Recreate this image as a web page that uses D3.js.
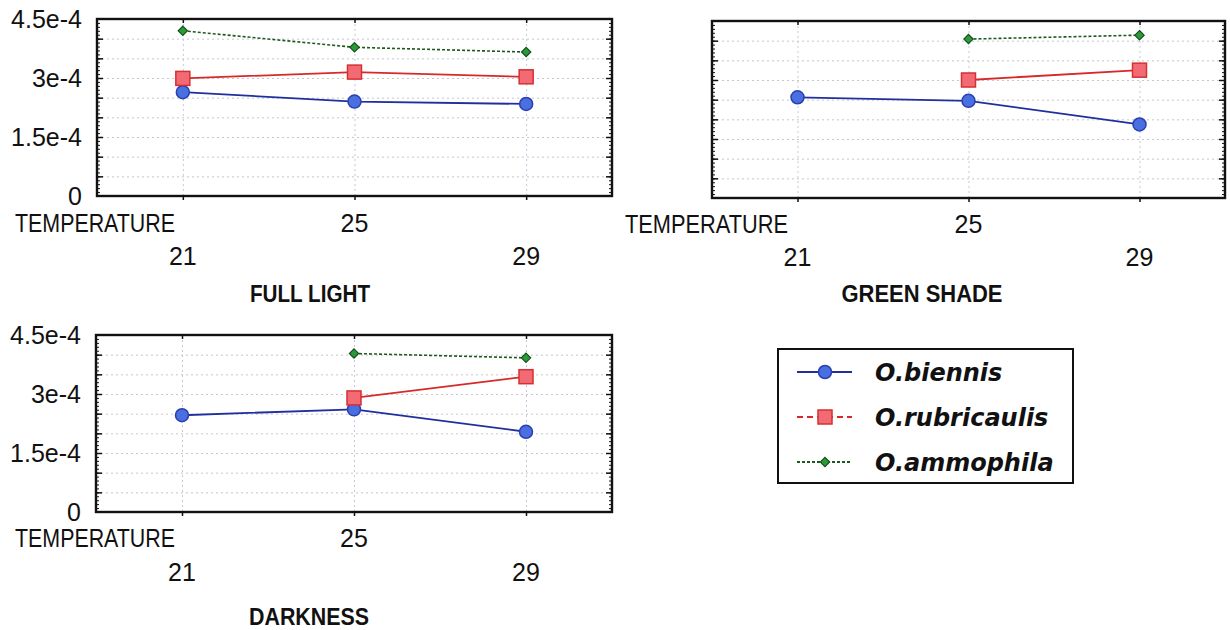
<!DOCTYPE html>
<html lang="en">
<head>
<meta charset="utf-8">
<title>Temperature panels</title>
<script src="https://cdn.jsdelivr.net/npm/d3@7"></script>
<style>
  body { margin: 0; background: #fff; }
  .lbl { font-family: "Liberation Sans", sans-serif; font-size: 25px; fill: #111; }
  .title { font-family: "Liberation Sans", sans-serif; font-weight: bold; font-size: 24px; fill: #111; }
  .leg { font-family: "DejaVu Sans", sans-serif; font-weight: bold; font-style: italic; font-size: 24px; fill: #111; }
</style>
</head>
<body>
<div id="chart"></div>
<script>
// data
var temps = [21, 25, 29];
var seriesNames = ["O.biennis", "O.rubricaulis", "O.ammophila"];
var yTicks = [0, 1.5e-4, 3e-4, 4.5e-4];

var fullBiennis = [2.64e-4, 2.40e-4, 2.34e-4];
var fullRubricaulis = [2.99e-4, 3.15e-4, 3.03e-4];
var fullAmmophila = [4.2e-4, 3.78e-4, 3.66e-4];

var shadeBiennis = [2.56e-4, 2.47e-4, 1.87e-4];
var shadeRubricaulis = [null, 3.0e-4, 3.25e-4];
var shadeAmmophila = [null, 4.04e-4, 4.14e-4];

var darkBiennis = [2.46e-4, 2.61e-4, 2.04e-4];
var darkRubricaulis = [null, 2.9e-4, 3.44e-4];
var darkAmmophila = [null, 4.03e-4, 3.92e-4];

var W = 1230, H = 630;
var svg = d3.select("#chart").append("svg")
    .attr("width", W).attr("height", H);

var styles = [
  {line: "#1f2f9e", fill: "#4a6fe0", stroke: "#2a3fb0", dash: null, shape: "circle"},
  {line: "#d62a2a", fill: "#f26b74", stroke: "#d63030", dash: null, legDash: "6,4", shape: "square"},
  {line: "#1c5a1c", fill: "#2c9a3a", stroke: "#14501a", dash: "3,2", shape: "diamond"}
];

var panels = [
  {title: "FULL LIGHT", titleW: 120, left: 97, right: 612, top: 19, bottom: 196, xDomain: [19, 31],
   showY: true, tempX: 15, tempW: 160, row1: 232, row2: 265, titleX: 310, titleY: 302,
   series: [fullBiennis, fullRubricaulis, fullAmmophila]},
  {title: "GREEN SHADE", titleW: 161, left: 712, right: 1225, top: 21, bottom: 198, xDomain: [19, 31],
   showY: false, tempX: 625, tempW: 163, row1: 233, row2: 266, titleX: 922, titleY: 302,
   series: [shadeBiennis, shadeRubricaulis, shadeAmmophila]},
  {title: "DARKNESS", titleW: 120, left: 96, right: 612, top: 335, bottom: 512, xDomain: [19, 31],
   showY: true, tempX: 15, tempW: 160, row1: 547, row2: 581, titleX: 309, titleY: 625,
   series: [darkBiennis, darkRubricaulis, darkAmmophila]}
];

panels.forEach(function(p) {
  var w = p.right - p.left, h = p.bottom - p.top;
  var x = d3.scaleLinear().domain(p.xDomain).range([0, w]);
  var y = d3.scaleLinear().domain([0, 4.5e-4]).range([h, 0]);
  var g = svg.append("g").attr("transform", "translate(" + p.left + "," + p.top + ")");

  // grid
  var hGrid = d3.range(1, 9).map(function(i) { return i * 0.5e-4; });
  g.append("g").call(d3.axisLeft(y).tickValues(hGrid).tickSize(-w).tickFormat(""))
    .call(function(s) {
      s.select(".domain").remove();
      s.selectAll("line").attr("stroke", "#c6c6cc").attr("stroke-dasharray", "2,3");
    });
  g.append("g").attr("transform", "translate(0," + h + ")")
    .call(d3.axisBottom(x).tickValues(temps).tickSize(-h).tickFormat(""))
    .call(function(s) {
      s.select(".domain").remove();
      s.selectAll("line").attr("stroke", "#c4c8dc").attr("stroke-dasharray", "2,3");
    });

  // minor + major inside ticks, left and right
  var minor = d3.range(0, 46).map(function(i) { return i * 0.1e-4; });
  [["L", 0], ["R", w]].forEach(function(side) {
    var ax = side[0] === "L" ? d3.axisRight : d3.axisLeft;
    g.append("g").attr("transform", "translate(" + side[1] + ",0)")
      .call(ax(y).tickValues(minor).tickSize(3).tickFormat(""))
      .call(function(s) { s.select(".domain").remove(); s.selectAll("line").attr("stroke", "#111"); });
    g.append("g").attr("transform", "translate(" + side[1] + ",0)")
      .call(ax(y).tickValues(hGrid).tickSize(6).tickFormat(""))
      .call(function(s) { s.select(".domain").remove(); s.selectAll("line").attr("stroke", "#111").attr("stroke-width", 1.5); });
  });

  // x ticks bottom (outside) and top (inside)
  g.append("g").attr("transform", "translate(0," + h + ")")
    .call(d3.axisBottom(x).tickValues(temps).tickSize(4).tickFormat(""))
    .call(function(s) { s.select(".domain").remove(); s.selectAll("line").attr("stroke", "#111").attr("stroke-width", 1.5); });
  g.append("g")
    .call(d3.axisBottom(x).tickValues(temps).tickSize(4).tickFormat(""))
    .call(function(s) { s.select(".domain").remove(); s.selectAll("line").attr("stroke", "#111").attr("stroke-width", 1.5); });

  // frame
  g.append("rect").attr("width", w).attr("height", h)
    .attr("fill", "none").attr("stroke", "#111").attr("stroke-width", 2.4);

  // y labels
  if (p.showY) {
    g.append("g")
      .call(d3.axisLeft(y).tickValues(yTicks).tickSize(0).tickPadding(15)
        .tickFormat(function(d) { return d === 0 ? "0" : (+(d * 1e4).toFixed(1)) + "e-4"; }))
      .call(function(s) {
        s.select(".domain").remove();
        s.selectAll("text").attr("class", "lbl").attr("font-size", null).attr("font-family", null).attr("fill", null);
      });
  }

  // series
  p.series.forEach(function(vals, si) {
    var st = styles[si];
    var pts = temps.map(function(t, i) { return {t: t, v: vals[i]}; })
      .filter(function(d) { return d.v != null; });
    var line = d3.line().x(function(d) { return x(d.t); }).y(function(d) { return y(d.v); });
    g.append("path").datum(pts).attr("d", line)
      .attr("fill", "none").attr("stroke", st.line).attr("stroke-width", si === 2 ? 1.6 : 1.8)
      .attr("stroke-dasharray", st.dash);
    drawMarkers(g, pts.map(function(d) { return [x(d.t), y(d.v)]; }), st);
  });

  // x labels
  var base = svg.append("g");
  base.append("text").attr("class", "lbl").attr("x", p.tempX).attr("y", p.row1)
    .attr("font-size", "24px")
    .attr("textLength", p.tempW).attr("lengthAdjust", "spacingAndGlyphs").text("TEMPERATURE");
  temps.forEach(function(t, i) {
    base.append("text").attr("class", "lbl")
      .attr("x", p.left + x(t)).attr("y", i === 1 ? p.row1 : p.row2)
      .attr("text-anchor", "middle").text(t);
  });
  base.append("text").attr("class", "title").attr("x", p.titleX).attr("y", p.titleY)
    .attr("text-anchor", "middle").attr("textLength", p.titleW).attr("lengthAdjust", "spacingAndGlyphs")
    .text(p.title);
});

function drawMarkers(g, pts, st) {
  var sel = g.selectAll(null).data(pts).enter();
  if (st.shape === "circle") {
    sel.append("circle").attr("cx", function(d) { return d[0]; }).attr("cy", function(d) { return d[1]; })
      .attr("r", 6.5).attr("fill", st.fill).attr("stroke", st.stroke).attr("stroke-width", 1.5);
  } else if (st.shape === "square") {
    sel.append("rect").attr("x", function(d) { return d[0] - 7; }).attr("y", function(d) { return d[1] - 7; })
      .attr("width", 14).attr("height", 14).attr("fill", st.fill).attr("stroke", st.stroke).attr("stroke-width", 1.5);
  } else {
    sel.append("path").attr("d", d3.symbol().type(d3.symbolDiamond2).size(55))
      .attr("transform", function(d) { return "translate(" + d[0] + "," + d[1] + ")"; })
      .attr("fill", st.fill).attr("stroke", st.stroke).attr("stroke-width", 1.2);
  }
}

// legend
var leg = svg.append("g");
leg.append("rect").attr("x", 778).attr("y", 349).attr("width", 295).attr("height", 134)
  .attr("fill", "#fff").attr("stroke", "#111").attr("stroke-width", 2);
var legY = d3.scalePoint().domain(seriesNames).range([372, 462]);
seriesNames.forEach(function(name, i) {
  var st = styles[i], cy = legY(name);
  leg.append("line").attr("x1", 797).attr("x2", 852).attr("y1", cy).attr("y2", cy)
    .attr("stroke", st.line).attr("stroke-width", 1.8)
    .attr("stroke-dasharray", i === 1 ? st.legDash : st.dash);
  drawMarkers(leg, [[825, cy]], st);
  leg.append("text").attr("class", "leg").attr("x", 875).attr("y", cy + 9).text(name);
});
</script>
</body>
</html>
